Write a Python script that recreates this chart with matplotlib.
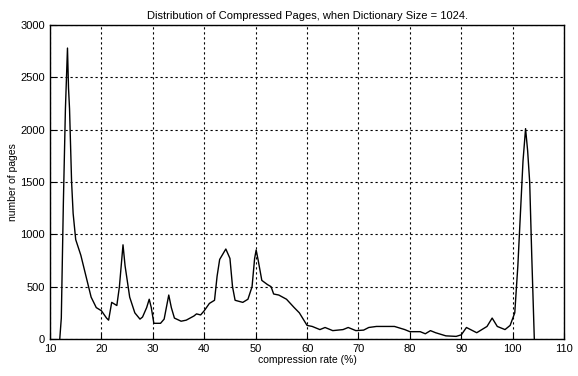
import numpy as np
import matplotlib
matplotlib.use("Agg")
import matplotlib.pyplot as plt

plt.rcParams['font.family'] = ['Liberation Sans Narrow', 'Liberation Sans', 'DejaVu Sans']

# compression rate (%) vs number of pages
rate = [11.9, 12.2, 12.6, 13.0, 13.4, 13.6, 13.8, 14.2, 14.5, 15.0, 16.0, 17.0,
        18.0, 19.0, 20.0, 21.0, 21.4, 22.0, 23.0, 23.5, 24.2, 24.6, 25.5, 26.5,
        27.5, 28.0, 28.8, 29.3, 29.7, 30.2, 31.5, 32.2, 33.1, 33.6, 34.2, 35.5,
        36.5, 38.0, 38.5, 39.3, 40.0, 41.0, 42.0, 42.5, 43.0, 44.2, 45.0, 45.5,
        46.0, 47.5, 48.5, 49.3, 49.8, 50.1, 50.5, 51.2, 52.3, 53.0, 53.5, 54.5,
        56.0, 57.5, 58.5, 60.0, 61.0, 62.5, 63.5, 65.0, 67.0, 68.0, 69.5, 71.0,
        72.0, 73.5, 75.0, 77.0, 79.0, 80.0, 82.0, 83.0, 84.0, 85.0, 87.0, 89.0,
        90.0, 91.0, 93.0, 95.0, 96.0, 97.0, 98.5, 99.5, 100.4, 101.0, 101.3,
        101.6, 102.0, 102.5, 102.9, 103.3, 103.7, 104.2]
pages = [0, 200, 1300, 2200, 2780, 2400, 2200, 1500, 1200, 950, 800, 600,
         400, 300, 270, 200, 180, 350, 320, 500, 900, 700, 400, 250,
         190, 210, 300, 380, 300, 150, 150, 190, 420, 300, 200, 170,
         180, 220, 240, 230, 270, 340, 370, 600, 760, 860, 770, 500,
         370, 350, 380, 500, 770, 850, 750, 560, 520, 500, 430, 420,
         380, 300, 250, 130, 120, 90, 110, 80, 90, 110, 80, 85,
         110, 120, 120, 120, 90, 70, 70, 50, 80, 60, 30, 25,
         40, 110, 60, 120, 200, 120, 90, 130, 250, 700, 1000,
         1300, 1700, 2010, 1800, 1500, 800, 0]

fig = plt.figure(figsize=(5.78, 3.76), dpi=100)
ax = fig.add_axes([0.0865, 0.0984, 0.8895, 0.835])

ax.plot(rate, pages, color='black', linewidth=1.0)
ax.set_xlim(10, 110)
ax.set_ylim(0, 3000)
ax.set_xticks(np.arange(10, 111, 10))
ax.set_yticks(np.arange(0, 3001, 500))
ax.grid(True, color='black', linestyle=(0, (2, 2.5)), linewidth=0.8)
ax.tick_params(direction='in', labelsize=8, length=4)
for s in ax.spines.values():
    s.set_linewidth(1.0)

ax.set_title("Distribution of Compressed Pages, when Dictionary Size = 1024.", fontsize=8, pad=4)
ax.set_xlabel("compression rate (%)", fontsize=7.5, labelpad=1)
ax.set_ylabel("number of pages", fontsize=7.5, labelpad=2)

fig.savefig("out.png", dpi=100)
